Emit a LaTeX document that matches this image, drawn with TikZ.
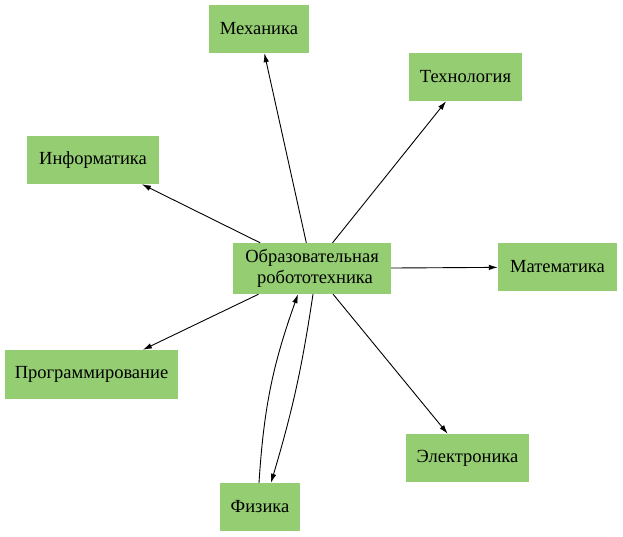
\documentclass[tikz,border=0pt]{standalone}
\usepackage{fontspec}
\setmainfont{Liberation Serif}
\usetikzlibrary{arrows.meta,positioning}
\definecolor{boxgreen}{RGB}{148,205,114}
\tikzset{>={Latex[length=9pt,width=5.5pt]}}
\tikzstyle{topic}=[fill=boxgreen,inner sep=0pt,align=center,font=\fontsize{18.5}{21.5}\selectfont]

\begin{document}
\begin{tikzpicture}[x=1pt, y=-1pt, link/.style={->,line width=0.9pt,black}]

    \useasboundingbox (0,0) rectangle (623,537);

    % central node
    \node[topic, minimum width=158pt, minimum height=51pt] (robo) at (312,268.5) {Образовательная\\\hspace*{6pt}робототехника};

    % subjects
    \node[topic, minimum width=100pt, minimum height=48pt] (mech) at (259,29) {Механика};
    \node[topic, minimum width=113pt, minimum height=48pt] (tech) at (465.5,77) {Технология};
    \node[topic, minimum width=132pt, minimum height=48pt] (inf) at (93,160) {Информатика};
    \node[topic, minimum width=119pt, minimum height=48pt] (math) at (557.5,267) {Математика};
    \node[topic, minimum width=173pt, minimum height=49pt] (prog) at (91.5,374.5) {Программирование};
    \node[topic, minimum width=123pt, minimum height=48pt] (elec) at (467.5,458) {Электроника};
    \node[topic, minimum width=80pt, minimum height=48pt] (phys) at (260,507) {Физика};

    % links
    \draw[link] (robo) -- (mech);
    \draw[link] (robo) -- (tech);
    \draw[link] (robo) -- (inf);
    \draw[link] (robo) -- (math);
    \draw[link] (robo) -- (prog);
    \draw[link] (robo) -- (elec);
    \draw[link] ([xshift=1pt]robo.south) to[bend left=4] ([xshift=11pt]phys.north);
    \draw[link] ([xshift=-1pt]phys.north) to[bend left=8] ([xshift=-14pt]robo.south);

\end{tikzpicture}
\end{document}
